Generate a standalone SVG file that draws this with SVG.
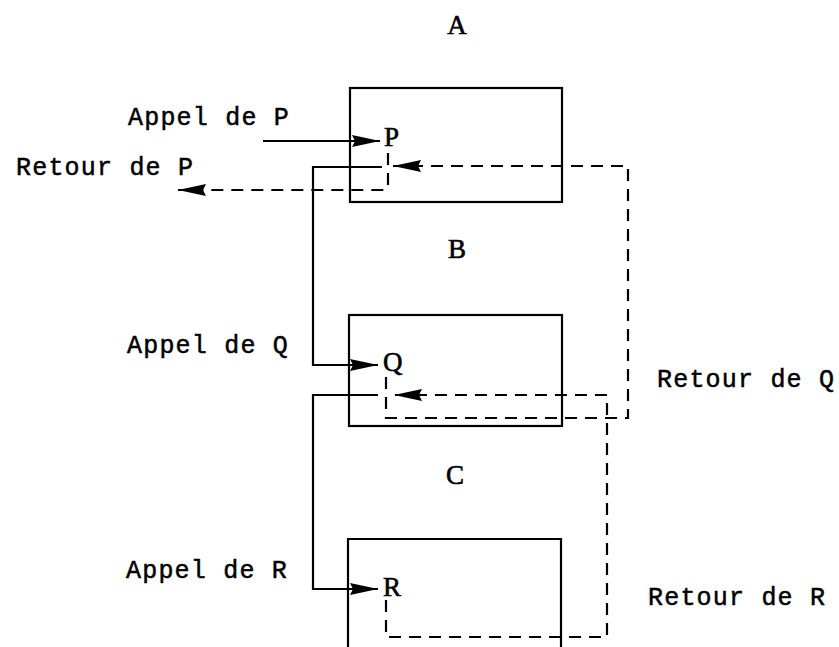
<svg xmlns="http://www.w3.org/2000/svg" width="839" height="647" viewBox="0 0 839 647">
<style>
.box{fill:none;stroke:#000;stroke-width:2.2}
.s{fill:none;stroke:#000;stroke-width:2.2}
.d{fill:none;stroke:#000;stroke-width:2.2;stroke-dasharray:12 8}
.lbl{font-family:"Liberation Mono","Courier New",monospace;font-size:25px;letter-spacing:1.2px;fill:#000;stroke:#000;stroke-width:0.5}
.let{font-family:"Liberation Serif","Times New Roman",serif;font-size:27px;fill:#000;stroke:#000;stroke-width:0.6}
</style>
<defs>
<marker id="ah" markerUnits="userSpaceOnUse" markerWidth="30" markerHeight="14" refX="28" refY="7" orient="auto" viewBox="0 0 30 14">
<path d="M0,1 L28,7 L0,13 L3,7 Z" fill="#000"/>
</marker>
</defs>
<rect width="839" height="647" fill="#fff"/>
<g id="labelA"><text class="let" x="457" y="34" text-anchor="middle">A</text></g>
<g id="labelB"><text class="let" x="457" y="258" text-anchor="middle">B</text></g>
<g id="labelC"><text class="let" x="455" y="484" text-anchor="middle">C</text></g>
<g id="boxA">
<rect class="box" x="350" y="88" width="212" height="114"/>
<text class="let" x="384" y="146">P</text>
</g>
<g id="boxB">
<rect class="box" x="349" y="315" width="213" height="111"/>
<text class="let" x="383" y="371">Q</text>
</g>
<g id="boxC">
<path class="box" d="M348,660 V539 H561 V660"/>
<text class="let" x="383" y="596">R</text>
</g>
<g id="connectors">
<path class="s" d="M263,141 H380" marker-end="url(#ah)"/>
<path class="d" d="M388,153 V186 Q388,190 384,190 H178" marker-end="url(#ah)"/>
<path class="s" d="M382,167 H313 V365 H378" marker-end="url(#ah)"/>
<path class="d" d="M386,377 V418 H628 V166 H393" marker-end="url(#ah)"/>
<path class="s" d="M378,395 H313 V589 H378" marker-end="url(#ah)"/>
<path class="d" d="M386,600 V637 H607 V395 H394" marker-end="url(#ah)"/>
</g>
<g id="texts">
<text class="lbl" x="128" y="125">Appel de P</text>
<text class="lbl" x="16" y="175">Retour de P</text>
<text class="lbl" x="127" y="353">Appel de Q</text>
<text class="lbl" x="657" y="387">Retour de Q</text>
<text class="lbl" x="126" y="578">Appel de R</text>
<text class="lbl" x="648" y="605">Retour de R</text>
</g>
</svg>
